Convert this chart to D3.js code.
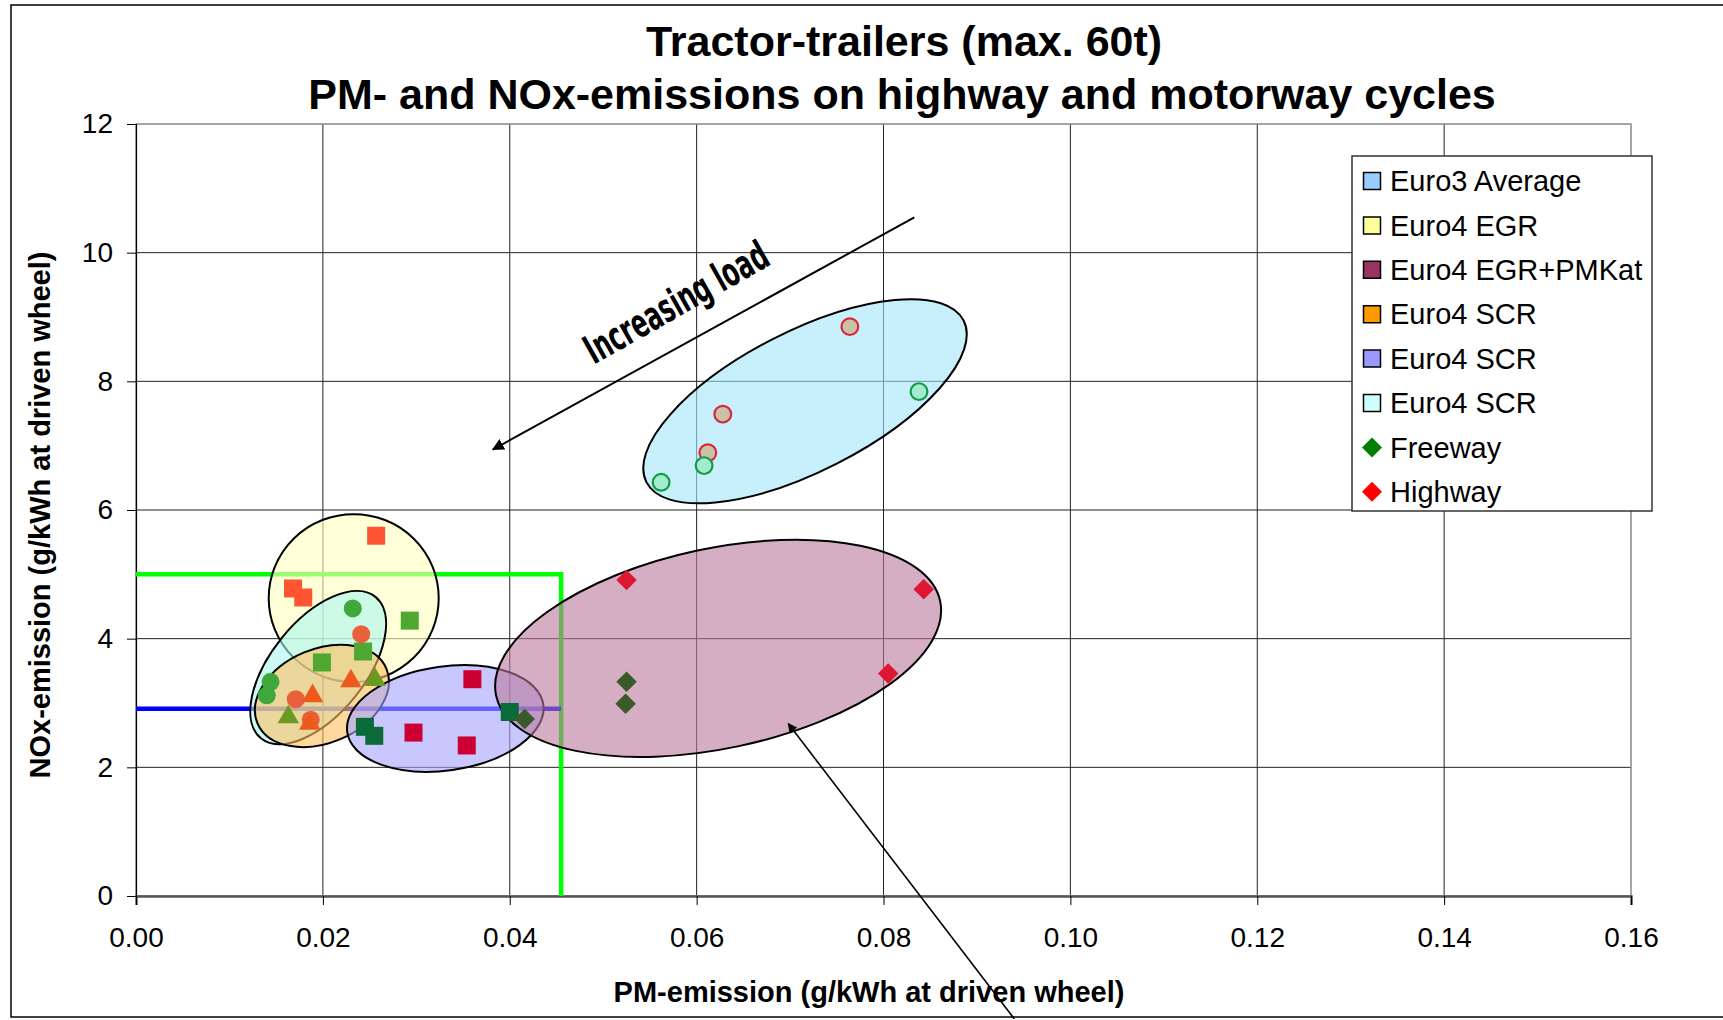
<!DOCTYPE html>
<html>
<head>
<meta charset="utf-8">
<script src="https://cdn.jsdelivr.net/npm/d3@7"></script>
<style>
  body { margin: 0; background: #fff; }
  text { font-family: "Liberation Sans", Arial, sans-serif; }
</style>
</head>
<body>
<script>
// Axis ticks
const xTicks = [0, 0.02, 0.04, 0.06, 0.08, 0.10, 0.12, 0.14, 0.16];
const yTicks = [0, 2, 4, 6, 8, 10, 12];

// Legend entries
const legendLabels = ["Euro3 Average", "Euro4 EGR", "Euro4 EGR+PMKat", "Euro4 SCR", "Euro4 SCR", "Euro4 SCR", "Freeway", "Highway"];

// Measured points [PM, NOx]
const euro3Highway = [[0.0764, 8.85], [0.0628, 7.49], [0.0612, 6.89]];
const euro3Freeway = [[0.0838, 7.84], [0.0608, 6.69], [0.0562, 6.43]];
const egrHighway = [[0.0257, 5.60], [0.0168, 4.78], [0.0179, 4.64]];
const egrFreeway = [[0.0293, 4.28], [0.0243, 3.80], [0.0199, 3.63]];
const scrAHighway = [[0.0241, 4.07], [0.0171, 3.06], [0.0187, 2.74]];
const scrAFreeway = [[0.0232, 4.47], [0.0144, 3.33], [0.0140, 3.12]];
const scrBHighway = [[0.0230, 3.34], [0.0189, 3.11], [0.0186, 2.68]];
const scrBFreeway = [[0.0256, 3.36], [0.0163, 2.78]];
const scrCHighway = [[0.0360, 3.37], [0.0297, 2.54], [0.0354, 2.34]];
const scrCFreeway = [[0.0245, 2.63], [0.0255, 2.49], [0.0400, 2.86]];
const pmkatHighway = [[0.0525, 4.91], [0.0843, 4.77], [0.0805, 3.46]];
const pmkatFreeway = [[0.0525, 3.33], [0.0524, 2.99], [0.0416, 2.75]];

// Limit lines [PM end, NOx level]
const greenLimit = [0.0455, 5.0];
const blueLimit = [0.0455, 2.91];

// Cluster centres [PM, NOx]
const clusterCentres = {
  euro3: [0.0716, 7.69],
  egr: [0.0233, 4.63],
  scrCyan: [0.0195, 3.55],
  scrOrange: [0.0199, 3.11],
  scrBlue: [0.0331, 2.76],
  pmkat: [0.0623, 3.85]
};

// Arrow annotations [PM, NOx]
const loadArrow = [[0.0833, 10.55], [0.0382, 6.94]];
const labelArrow = [[0.0940, -1.91], [0.0698, 2.68]];
const loadLabelPos = [0.0578, 9.23];

const W = 1723, H = 1020;
const svg = d3.select("body").append("svg")
  .attr("width", W)
  .attr("height", H);

const x = d3.scaleLinear().domain([0, 0.16]).range([136, 1631]);
const y = d3.scaleLinear().domain([0, 12]).range([896, 124]);

svg.append("defs").append("marker")
  .attr("id", "head")
  .attr("viewBox", "0 0 10 10")
  .attr("refX", 9).attr("refY", 5)
  .attr("markerWidth", 6).attr("markerHeight", 6)
  .attr("markerUnits", "strokeWidth")
  .attr("orient", "auto")
  .append("path")
  .attr("d", "M0,0 L10,5 L0,10 z")
  .attr("fill", "#000");

// outer frame
svg.append("rect")
  .attr("x", 11).attr("y", 5)
  .attr("width", 1740).attr("height", 1012)
  .attr("fill", "none")
  .attr("stroke", "#000")
  .attr("stroke-width", 1.5);

// grid
svg.append("g").selectAll("line")
  .data(xTicks.slice(1, -1))
  .join("line")
  .attr("x1", d => x(d)).attr("x2", d => x(d))
  .attr("y1", y(12)).attr("y2", y(0))
  .attr("stroke", "#222").attr("stroke-width", 1);

svg.append("g").selectAll("line")
  .data(yTicks.slice(1, -1))
  .join("line")
  .attr("x1", x(0)).attr("x2", x(0.16))
  .attr("y1", d => y(d)).attr("y2", d => y(d))
  .attr("stroke", "#222").attr("stroke-width", 1);

// plot border (top / right grey)
svg.append("rect")
  .attr("x", x(0)).attr("y", y(12))
  .attr("width", x(0.16) - x(0)).attr("height", y(0) - y(12))
  .attr("fill", "none")
  .attr("stroke", "#888").attr("stroke-width", 1.5);

// axes
const xAxis = d3.axisBottom(x).tickValues(xTicks).tickSize(9).tickPadding(22)
  .tickFormat(d3.format(".2f"));
const yAxis = d3.axisLeft(y).tickValues(yTicks).tickSize(9).tickPadding(14)
  .tickFormat(d3.format("d"));

const gx = svg.append("g").attr("transform", `translate(0,${y(0)})`).call(xAxis);
const gy = svg.append("g").attr("transform", `translate(${x(0)},0)`).call(yAxis);
gx.select(".domain").attr("stroke", "#555").attr("stroke-width", 2.5);
gy.select(".domain").attr("stroke", "#000").attr("stroke-width", 1.2);
[gx, gy].forEach(g => {
  g.selectAll(".tick line").attr("stroke", "#000");
  g.selectAll(".tick text")
    .style("font-size", "28px")
    .style("font-family", "'Liberation Sans', Arial, sans-serif")
    .attr("fill", "#000");
});

// limit lines
svg.append("path")
  .attr("d", d3.line()([[x(0), y(greenLimit[1])], [x(greenLimit[0]), y(greenLimit[1])], [x(greenLimit[0]), y(0)]]))
  .attr("fill", "none")
  .attr("stroke", "#00ff00").attr("stroke-width", 4.5);

svg.append("line")
  .attr("x1", x(0)).attr("x2", x(blueLimit[0]))
  .attr("y1", y(blueLimit[1])).attr("y2", y(blueLimit[1]))
  .attr("stroke", "#0000ff").attr("stroke-width", 4.5);

// cluster ellipses
const ellipses = [
  { c: clusterCentres.egr, rx: 85, ry: 84, rot: 0, fill: "#ffffbe" },
  { c: clusterCentres.scrCyan, rx: 91, ry: 47, rot: -51, fill: "#aaf6f0" },
  { c: clusterCentres.scrOrange, rx: 70, ry: 47, rot: -23, fill: "#ffbe61" },
  { c: clusterCentres.scrBlue, rx: 99, ry: 52, rot: -8, fill: "#a3a3ff" },
  { c: clusterCentres.pmkat, rx: 227, ry: 100, rot: -12, fill: "#bb789d" },
  { c: clusterCentres.euro3, rx: 178, ry: 70, rot: -27, fill: "#a3e6fa" }
];

svg.append("g").selectAll("ellipse")
  .data(ellipses)
  .join("ellipse")
  .attr("transform", d => `translate(${x(d.c[0])},${y(d.c[1])}) rotate(${d.rot})`)
  .attr("rx", d => d.rx).attr("ry", d => d.ry)
  .attr("fill", d => d.fill).attr("fill-opacity", 0.6)
  .attr("stroke", "#000").attr("stroke-width", 2);

// points
const series = [
  { data: egrHighway, shape: "square", color: "#ff5533" },
  { data: egrFreeway, shape: "square", color: "#4ea832" },
  { data: scrAHighway, shape: "circle", color: "#e8603c" },
  { data: scrAFreeway, shape: "circle", color: "#3fa83a" },
  { data: scrBHighway, shape: "triangle", color: "#ee5a1c" },
  { data: scrBFreeway, shape: "triangle", color: "#6a9a22" },
  { data: scrCFreeway, shape: "square", color: "#0b6a3a" },
  { data: scrCHighway, shape: "square", color: "#cc0033" },
  { data: pmkatFreeway, shape: "diamond", color: "#3b5a2a" },
  { data: pmkatHighway, shape: "diamond", color: "#dd1733" },
  { data: euro3Highway, shape: "ring", color: "#c8c3a8", stroke: "#d9283a" },
  { data: euro3Freeway, shape: "ring", color: "#a2ecd0", stroke: "#159a44" }
];

const symbolFor = {
  square: d3.symbol(d3.symbolSquare, 324),
  circle: d3.symbol(d3.symbolCircle, 254),
  ring: d3.symbol(d3.symbolCircle, 220),
  triangle: d3.symbol(d3.symbolTriangle, 200),
  diamond: d3.symbol(d3.symbolSquare, 210)
};

series.forEach(s => {
  svg.append("g").selectAll("path")
    .data(s.data)
    .join("path")
    .attr("d", symbolFor[s.shape]())
    .attr("transform", d => `translate(${x(d[0])},${y(d[1])})` + (s.shape === "diamond" ? " rotate(45)" : ""))
    .attr("fill", s.color)
    .attr("stroke", s.stroke || "none")
    .attr("stroke-width", s.stroke ? 2.2 : 0);
});

// arrows
svg.append("line")
  .attr("x1", x(loadArrow[0][0])).attr("y1", y(loadArrow[0][1]))
  .attr("x2", x(loadArrow[1][0])).attr("y2", y(loadArrow[1][1]))
  .attr("stroke", "#000").attr("stroke-width", 2)
  .attr("marker-end", "url(#head)");

svg.append("line")
  .attr("x1", x(labelArrow[0][0])).attr("y1", y(labelArrow[0][1]))
  .attr("x2", x(labelArrow[1][0])).attr("y2", y(labelArrow[1][1]))
  .attr("stroke", "#000").attr("stroke-width", 1.6)
  .attr("marker-end", "url(#head)");

svg.append("text")
  .attr("transform", `translate(${x(loadLabelPos[0])},${y(loadLabelPos[1])}) rotate(-29.5)`)
  .attr("text-anchor", "middle")
  .attr("dominant-baseline", "central")
  .attr("textLength", 205)
  .attr("lengthAdjust", "spacingAndGlyphs")
  .style("font-family", "'Liberation Sans Narrow', 'DejaVu Sans Condensed', Arial, sans-serif")
  .style("font-weight", "bold")
  .style("font-size", "40px")
  .text("Increasing load");

// titles
svg.append("text")
  .attr("x", 904).attr("y", 56)
  .attr("text-anchor", "middle")
  .style("font-size", "43px").style("font-weight", "bold")
  .text("Tractor-trailers (max. 60t)");

svg.append("text")
  .attr("x", 902).attr("y", 109)
  .attr("text-anchor", "middle")
  .style("font-size", "43px").style("font-weight", "bold")
  .text("PM- and NOx-emissions on highway and motorway cycles");

svg.append("text")
  .attr("x", 869).attr("y", 1002)
  .attr("text-anchor", "middle")
  .style("font-size", "29px").style("font-weight", "bold")
  .text("PM-emission (g/kWh at driven wheel)");

svg.append("text")
  .attr("transform", "translate(50,515) rotate(-90)")
  .attr("text-anchor", "middle")
  .style("font-size", "29px").style("font-weight", "bold")
  .text("NOx-emission (g/kWh at driven wheel)");

// legend
const legendColors = ["#99ccff", "#ffff99", "#993366", "#ff9900", "#9999ff", "#ccffff", "#008000", "#ff0000"];
const legend = svg.append("g").attr("transform", "translate(1352,156)");
legend.append("rect")
  .attr("width", 300).attr("height", 355)
  .attr("fill", "#fff")
  .attr("stroke", "#333").attr("stroke-width", 1.5);

const items = legend.selectAll("g.item")
  .data(legendLabels)
  .join("g")
  .attr("class", "item")
  .attr("transform", (d, i) => `translate(0,${25 + i * 44.4})`);

items.append("path")
  .attr("d", (d, i) => i < 6 ? "M-8.5,-8.5 h17 v17 h-17 z" : "M0,-10 L10,0 L0,10 L-10,0 z")
  .attr("transform", "translate(20,0)")
  .attr("fill", (d, i) => legendColors[i])
  .attr("stroke", (d, i) => i < 6 ? "#000" : "none")
  .attr("stroke-width", 1.5);

items.append("text")
  .attr("x", 38)
  .attr("dy", "0.35em")
  .style("font-size", "29px")
  .text(d => d);
</script>
</body>
</html>
